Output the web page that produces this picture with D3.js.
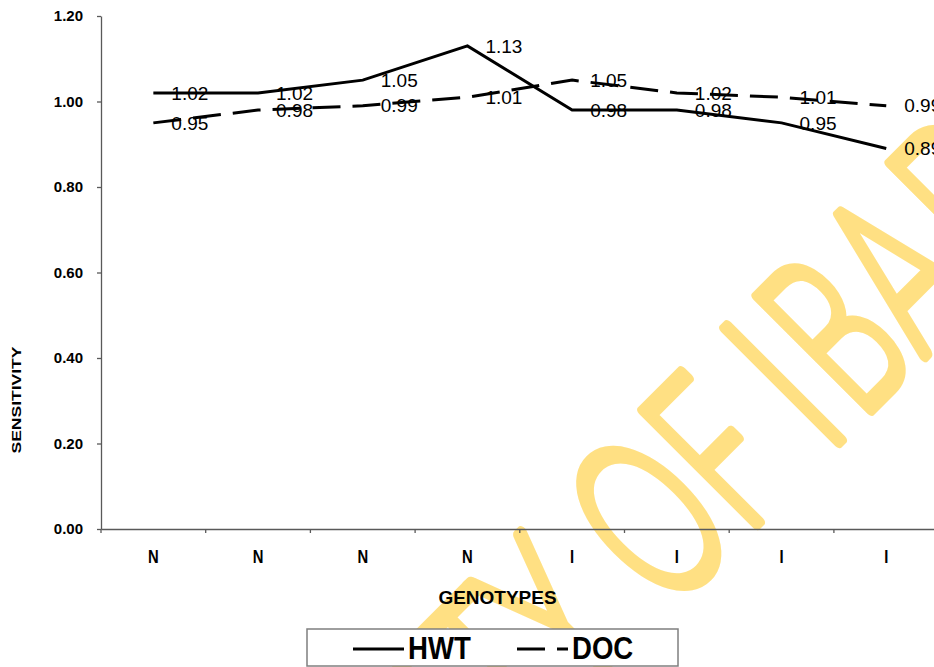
<!DOCTYPE html>
<html>
<head>
<meta charset="utf-8">
<script src="https://cdn.jsdelivr.net/npm/d3@7"></script>
<style>
  html, body { margin: 0; padding: 0; background: #fff; }
  svg { display: block; }
</style>
</head>
<body>
<svg id="chart" width="934" height="667"></svg>
<script>
// ---- data ----
const categories = ["N", "N", "N", "N", "I", "I", "I", "I"];
const hwtValues = [1.02, 1.02, 1.05, 1.13, 0.98, 0.98, 0.95, 0.89];
const docValues = [0.95, 0.98, 0.99, 1.01, 1.05, 1.02, 1.01, 0.99];
const yTickValues = [0, 0.2, 0.4, 0.6, 0.8, 1.0, 1.2];
const seriesNames = ["HWT", "DOC"];
const yTitle = "SENSITIVITY";
const xTitle = "GENOTYPES";
const watermarkText = "UNIVERSITY OF IBADAN";

// ---- layout ----
const W = 934, H = 667;
const svg = d3.select("#chart");
const font = "'Liberation Sans', Arial, Helvetica, sans-serif";

const x = d3.scaleBand().domain(d3.range(categories.length)).range([101, 938.6]);
const cx = i => x(i) + x.bandwidth() / 2;
const y = d3.scaleLinear().domain([0, 1.2]).range([529, 16]);

// ---- watermark (behind everything) ----
const wmCenters = [-615, -545, -490, -435, -370, -310, -245, -187, -120, -45,
                   null, 92, 187, null, 282, 353, 443, 550, 640, 730];
const wm = svg.append("g").attr("transform", "rotate(-45)");
watermarkText.split("").forEach((ch, i) => {
  if (ch === " " || wmCenters[i] == null) return;
  wm.append("text")
    .attr("transform", `translate(${wmCenters[i]},906) scale(0.6,1)`)
    .attr("text-anchor", "middle")
    .attr("font-family", "Lato, 'Open Sans', sans-serif")
    .attr("font-weight", 300)
    .attr("font-size", 228)
    .attr("fill", "#FFE083")
    .attr("stroke", "#FFE083")
    .attr("stroke-width", 11)
    .attr("stroke-linejoin", "round")
    .text(ch);
});

// ---- axes ----
const axisColor = "#595959";
const yAxis = svg.append("g")
  .attr("transform", "translate(101,0)")
  .call(d3.axisLeft(y).tickValues(yTickValues).tickFormat(d3.format(".2f"))
        .tickSize(4).tickSizeOuter(0).tickPadding(14));
yAxis.selectAll("path, line").attr("stroke", axisColor).attr("stroke-width", 1.3);
yAxis.selectAll("text")
  .attr("font-family", font).attr("font-weight", "bold").attr("font-size", 15)
  .attr("fill", "#000");

const xAxis = svg.append("g")
  .attr("transform", "translate(0,529)")
  .call(d3.axisBottom(x).tickFormat(i => categories[i])
        .tickSize(0).tickSizeOuter(0).tickPadding(21));
xAxis.selectAll("path").attr("stroke", axisColor).attr("stroke-width", 1.3);
xAxis.selectAll("text")
  .attr("font-family", font).attr("font-weight", "bold").attr("font-size", 19)
  .attr("fill", "#000")
  .attr("transform", "scale(0.78,1)");
xAxis.selectAll(".boundary")
  .data(d3.range(categories.length + 1))
  .enter().append("line")
  .attr("class", "boundary")
  .attr("x1", k => x.range()[0] + k * x.step())
  .attr("x2", k => x.range()[0] + k * x.step())
  .attr("y1", 0).attr("y2", 4)
  .attr("stroke", axisColor).attr("stroke-width", 1.3);

// axis titles
svg.append("text")
  .attr("transform", "translate(17,400) rotate(-90) scale(1.46,1)")
  .attr("text-anchor", "middle")
  .attr("dy", "0.35em")
  .attr("font-family", font).attr("font-weight", "bold").attr("font-size", 12)
  .text(yTitle);

svg.append("text")
  .attr("x", 497.5).attr("y", 604)
  .attr("text-anchor", "middle")
  .attr("font-family", font).attr("font-weight", "bold").attr("font-size", 19)
  .text(xTitle);

// ---- lines ----
const line = d3.line().x((d, i) => cx(i)).y(d => y(d));
svg.append("path").datum(hwtValues)
  .attr("d", line).attr("fill", "none")
  .attr("stroke", "#000").attr("stroke-width", 3).attr("stroke-linejoin", "miter");
svg.append("path").datum(docValues)
  .attr("d", line).attr("fill", "none")
  .attr("stroke", "#000").attr("stroke-width", 3)
  .attr("stroke-dasharray", "28,12");

// ---- data labels ----
[hwtValues, docValues].forEach(vals => {
  svg.append("g").selectAll("text")
    .data(vals).enter().append("text")
    .attr("x", (d, i) => cx(i) + 18)
    .attr("y", d => y(d))
    .attr("dy", "0.35em")
    .attr("font-family", font).attr("font-size", 19)
    .attr("fill", "#000")
    .text(d => d3.format(".2f")(d));
});

// ---- legend ----
const lg = svg.append("g");
lg.append("rect")
  .attr("x", 307).attr("y", 629).attr("width", 371).attr("height", 37)
  .attr("fill", "#fff").attr("stroke", "#7f7f7f").attr("stroke-width", 1.5);
lg.append("line")
  .attr("x1", 353).attr("x2", 404).attr("y1", 649).attr("y2", 649)
  .attr("stroke", "#000").attr("stroke-width", 3);
lg.append("text")
  .attr("transform", "translate(408,659) scale(0.89,1)")
  .attr("font-family", font).attr("font-weight", "bold").attr("font-size", 31)
  .text(seriesNames[0]);
lg.append("line")
  .attr("x1", 517).attr("x2", 568).attr("y1", 649).attr("y2", 649)
  .attr("stroke", "#000").attr("stroke-width", 3)
  .attr("stroke-dasharray", "28,12");
lg.append("text")
  .attr("transform", "translate(572,659) scale(0.89,1)")
  .attr("font-family", font).attr("font-weight", "bold").attr("font-size", 31)
  .text(seriesNames[1]);
</script>
</body>
</html>
